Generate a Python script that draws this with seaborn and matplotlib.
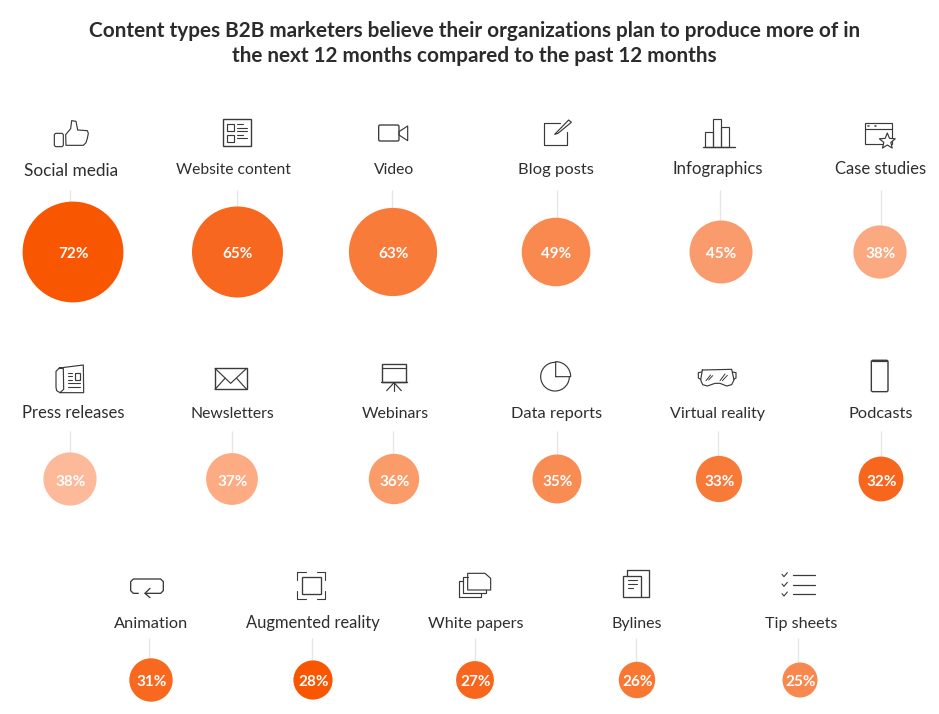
import numpy as np
import pandas as pd
import matplotlib
matplotlib.use("Agg")
import matplotlib.pyplot as plt
from matplotlib.patches import FancyBboxPatch, Polygon, Rectangle
import seaborn as sns

# ---- data ----
labels = ["Social media", "Website content", "Video", "Blog posts", "Infographics", "Case studies",
          "Press releases", "Newsletters", "Webinars", "Data reports", "Virtual reality", "Podcasts",
          "Animation", "Augmented reality", "White papers", "Bylines", "Tip sheets"]
values = [72, 65, 63, 49, 45, 38, 38, 37, 36, 35, 33, 32, 31, 28, 27, 26, 25]
title_lines = ["Content types B2B marketers believe their organizations plan to produce more of in",
               "the next 12 months compared to the past 12 months"]

# ---- layout and style (pixels) ----
circle_x = [73, 237.5, 393, 556, 721, 880, 70, 232, 394, 557, 719, 881, 151, 313, 475, 637, 800]
circle_y = [252] * 6 + [479] * 6 + [680] * 5
label_x = [71, 233, 394, 556, 718, 881, 73, 232, 395, 557, 718, 881, 151.5, 313, 476, 637, 801]
label_base = [176] + [174] * 5 + [418] * 6 + [628] * 5
label_width = [94, 114, 40, 75, 90, 91, 102, 83, 67, 91, 95, 64, 74, 134, 95, 50, 72]
stem_x = [70, 237, 392, 557, 719.5, 880.5, 69.5, 231.5, 393, 556.5, 718, 880.5, 149, 312, 475, 636, 798]
stem_top = [190] * 6 + [431] * 6 + [638] * 5
colors = ["#F95602", "#F7671F", "#F87B3A", "#F9894F", "#FA9B6E", "#FBA981",
          "#FCBA9B", "#FCAB82", "#F99C6A", "#F98C53", "#F87A38", "#F7661C",
          "#F8691F", "#F95602", "#F8661D", "#F87733", "#F9884F"]
DPI = 100
PX_PER_POINT = 1.4
INK = "#3A3A3A"
FONT = "Lato"
LW = 0.85

sns.set_theme(style="white")
plt.rcParams["font.family"] = [FONT, "DejaVu Sans"]

fig = plt.figure(figsize=(9.39, 7.14), dpi=DPI, facecolor="white")
ax = fig.add_axes([0, 0, 1, 1])

df = pd.DataFrame({"label": labels, "value": values, "x": circle_x, "y": circle_y})
df["diam"] = df["value"] * PX_PER_POINT
size_map = {v: (v * PX_PER_POINT * 72 / DPI) ** 2 for v in set(values)}

ax.vlines(stem_x, stem_top, df["y"] - df["diam"] / 2, color="#E6E6E6", lw=1, zorder=1)
sns.scatterplot(data=df, x="x", y="y", hue="label", palette=dict(zip(labels, colors)),
                size="value", sizes=size_map, linewidth=0, legend=False, ax=ax, zorder=2)
ax.set_xlim(0, 939)
ax.set_ylim(714, 0)
ax.axis("off")

renderer = fig.canvas.get_renderer()
for lab, v, cx, cy, lx, ly, w in zip(labels, values, circle_x, circle_y, label_x, label_base, label_width):
    t = ax.text(lx, ly, lab, ha="center", va="baseline", fontsize=11.2, color="#2E2E2E")
    t.set_fontsize(11.2 * w / t.get_window_extent(renderer).width)
    ax.text(cx + 0.5, cy + 6.5, f"{v}%", ha="center", va="baseline", fontsize=11,
            fontweight="bold", color="white", zorder=3)

for i, line in enumerate(title_lines):
    ax.text(474.5, 37 + 25 * i, line, ha="center", va="baseline", fontsize=14.95,
            fontweight="bold", color="#2B2B2B")


# ---- icons: outlines given in zoomed-crop units (3x) from a crop origin ----
class Icon:
    def __init__(self, ox, oy):
        self.ox, self.oy = ox, oy

    def p(self, pts):
        return [(self.ox + a / 3, self.oy + b / 3) for a, b in pts]

    def line(self, pts, lw=LW, c=INK):
        xy = np.array(self.p(pts))
        ax.plot(xy[:, 0], xy[:, 1], color=c, lw=lw, solid_capstyle="round", solid_joinstyle="round", zorder=4)

    def rect(self, x0, y0, x1, y1, lw=LW, round_=0):
        (a, b), (c, d) = self.p([(x0, y0), (x1, y1)])
        if round_:
            ax.add_patch(FancyBboxPatch((a + round_, b + round_), c - a - 2 * round_, d - b - 2 * round_,
                                        boxstyle=f"round,pad={round_}", fc="none", ec=INK, lw=lw, zorder=4))
        else:
            ax.add_patch(Rectangle((a, b), c - a, d - b, fc="none", ec=INK, lw=lw, zorder=4))

    def poly(self, pts, fc="none", lw=LW):
        ax.add_patch(Polygon(self.p(pts), closed=True, fc=fc, ec=INK, lw=lw, joinstyle="round", zorder=5))


# thumbs up
i = Icon(0, 100)
i.rect(163, 100, 190, 140, round_=2)
i.poly([(198, 136), (197, 104), (212, 86), (215, 62), (228, 64), (233, 90), (262, 92), (265, 100),
        (262, 115), (258, 128), (250, 136)])
# website
i.rect(670, 58, 752, 138, lw=1.0)
i.rect(681, 72, 703, 93)
i.rect(681, 104, 703, 125)
for y, x1 in [(72, 728), (83, 741), (93, 741), (104, 728), (113, 741)]:
    i.line([(712, y), (x1, y)], lw=0.8)
# video
i.rect(1136, 75, 1197, 123, lw=0.95, round_=1.5)
i.poly([(1197, 95), (1223, 78), (1223, 122), (1197, 105)])

# blog
i = Icon(470, 100)
i.line([(270, 70), (223, 70), (223, 136), (292, 136), (292, 95)])
i.poly([(254, 103), (296, 60), (304, 67), (264, 100)], fc="white")
# infographics
i.line([(698, 140), (795, 140)], lw=1.0)
i.rect(704, 97, 728, 140)
i.rect(728, 58, 752, 140)
i.rect(752, 82, 777, 140)
# case studies
i.rect(1186, 70, 1265, 133)
i.line([(1186, 88), (1265, 88)])
for x in (1195, 1205, 1216):
    i.line([(x, 78), (x + 1, 78)], lw=1.1)
star_t = np.deg2rad(np.arange(10) * 36 - 90)
star_r = np.array([25, 11] * 5)
i.poly(list(zip(1252 + star_r * np.cos(star_t), 124 + star_r * np.sin(star_t))), fc="white")

# press releases
i = Icon(0, 350)
i.line([(178, 54), (250, 45), (251, 128), (180, 128), (170, 122), (168, 112), (168, 64), (178, 54), (190, 56),
        (191, 118), (180, 128)])
i.rect(224, 68, 240, 90)
for y in (68, 79, 90):
    i.line([(204, y), (217, y)], lw=0.8)
for y in (100, 110):
    i.line([(204, y), (240, y)], lw=0.8)
# newsletters
i.rect(645, 55, 740, 118, lw=1.0)
i.line([(645, 55), (692, 100), (740, 55)])
i.line([(645, 118), (675, 85)])
i.line([(740, 118), (710, 85)])
# webinars
i.rect(1146, 43, 1218, 95, lw=1.0)
i.line([(1146, 53), (1218, 53)])
i.line([(1142, 95), (1222, 95)], lw=1.0)
i.line([(1182, 95), (1182, 122)])
i.line([(1182, 98), (1160, 122)])
i.line([(1182, 98), (1204, 122)])

# data reports
i = Icon(470, 350)
t = np.deg2rad(np.linspace(0, 270, 80))
i.line(list(zip(255 + 43 * np.cos(t), 80 + 43 * np.sin(t))))
t = np.deg2rad(np.linspace(-90, 0, 30))
i.line([(257, 80)] + list(zip(257 + 45 * np.cos(t), 80 + 45 * np.sin(t))) + [(257, 80)])
# virtual reality
i.line([(697, 60), (785, 58), (792, 90), (785, 104), (770, 108), (750, 100), (735, 100), (712, 108),
        (698, 104), (692, 90), (697, 60)])
i.line([(695, 66), (685, 68), (685, 84), (692, 88)])
i.line([(788, 66), (798, 68), (798, 84), (791, 88)])
for a, b in [((708, 92), (722, 75)), ((716, 90), (728, 77)), ((750, 92), (765, 72)), ((757, 92), (772, 76))]:
    i.line([a, b], lw=0.7)
# podcasts
i.rect(1204, 31, 1254, 125, lw=1.0, round_=1.5)
i.line([(1208, 33), (1250, 33)], lw=1.6)

# animation
i = Icon(100, 560)
i.line([(115, 100), (100, 100), (92, 92), (92, 65), (100, 57), (182, 57), (190, 65), (190, 92), (182, 100), (135, 100)], lw=0.95)
i.line([(150, 85), (135, 100), (150, 113)], lw=0.95)
# augmented reality
i.rect(607, 50, 662, 102, lw=0.95)
for x, y, dx, dy in [(592, 36, 1, 1), (676, 36, -1, 1), (592, 118, 1, -1), (676, 118, -1, -1)]:
    i.line([(x + 25 * dx, y), (x, y), (x, y + 25 * dy)], lw=0.8)
# white papers
i.poly([(1103, 40), (1155, 40), (1172, 55), (1172, 90), (1103, 90)])
i.line([(1103, 50), (1090, 50), (1090, 100), (1157, 100), (1157, 90)])
i.line([(1090, 62), (1078, 62), (1078, 112), (1143, 112), (1143, 100)])

# bylines
i = Icon(500, 560)
i.line([(382, 47), (382, 30), (448, 30), (448, 112), (423, 112)], lw=0.95)
i.rect(370, 47, 423, 112, lw=0.95)
for y, x1 in [(60, 410), (72, 410), (85, 400)]:
    i.line([(384, y), (x1, y)], lw=0.8)
# tip sheets
for y in (45, 74, 103):
    i.line([(880, y), (945, y)], lw=0.9)
    i.line([(846, y - 2), (852, y + 5), (862, y - 7)], lw=0.8)

fig.savefig("out.png", dpi=DPI, facecolor="white")
